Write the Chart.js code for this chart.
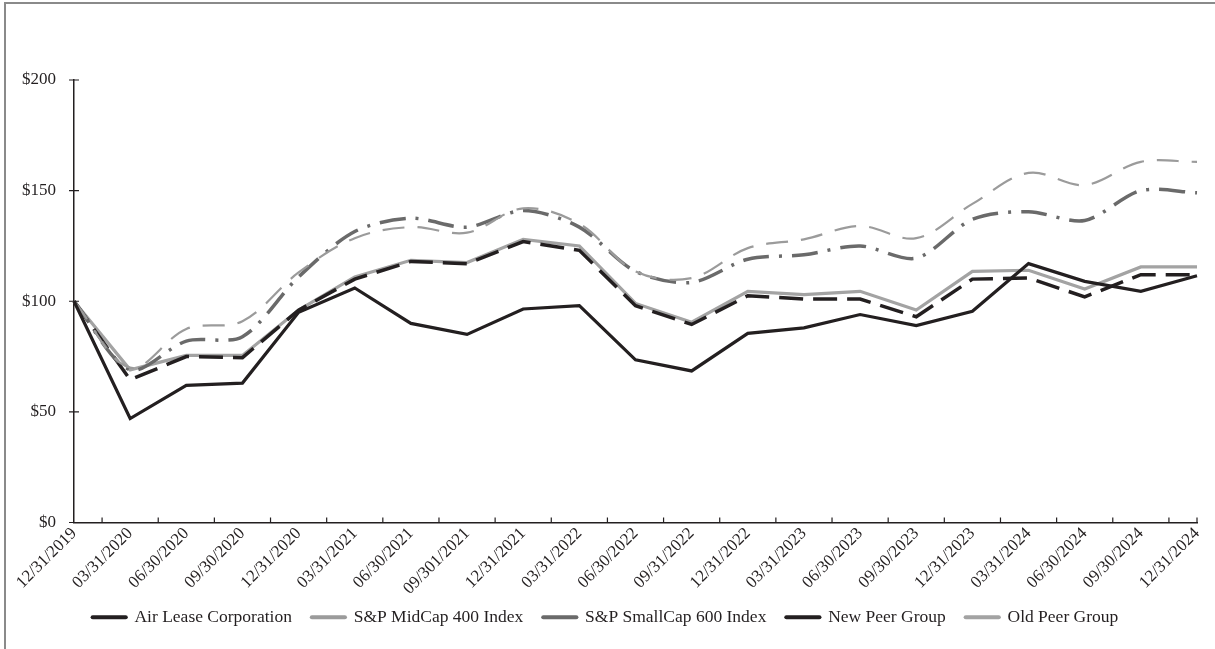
<!DOCTYPE html>
<html>
<head>
<meta charset="utf-8">
<script src="https://cdn.jsdelivr.net/npm/chart.js@4.4.1/dist/chart.umd.min.js"></script>
<style>
  html, body { margin: 0; padding: 0; background: #fff; }
  .frame {
    position: absolute; left: 4px; top: 2px; width: 1211px; height: 647px;
    border-left: 2px solid #8a8a8a; border-top: 2px solid #8a8a8a;
    box-sizing: border-box;
  }
  .frame canvas { display: block; }
</style>
</head>
<body>
<div class="frame"><canvas id="myChart" width="1209" height="645"></canvas></div>
<script>
const labels = ['12/31/2019', '03/31/2020', '06/30/2020', '09/30/2020', '12/31/2020', '03/31/2021',
  '06/30/2021', '09/301/2021', '12/31/2021', '03/31/2022', '06/30/2022', '09/31/2022', '12/31/2022',
  '03/31/2023', '06/30/2023', '09/30/2023', '12/31/2023', '03/31/2024', '06/30/2024', '09/30/2024', '12/31/2024'];

const airLease = [100, 47, 62, 63, 95, 106, 90, 85, 96.5, 98, 73.5, 68.5, 85.5, 88, 94, 89, 95.5, 117, 109, 104.5, 111.5];
const midCap = [100, 70, 87.5, 91, 113, 128.5, 133.5, 131, 142, 135, 113.5, 110.5, 124, 128, 134, 128.5, 144, 158, 152.5, 163, 163];
const smallCap = [100, 69, 82, 84, 111, 131.5, 137.5, 133.5, 141, 133.5, 113.5, 108.5, 119, 121, 125, 119.5, 137, 140.5, 136.5, 150, 149];
const newPeer = [100, 64.5, 75, 74.5, 96, 110, 118, 117, 127, 123, 98, 89.5, 102.5, 101, 101, 93, 110, 110.5, 102, 112, 112];
const oldPeer = [100, 69, 75.5, 75.5, 96, 111, 118.5, 117.5, 128, 125, 99, 90.5, 104.5, 103, 104.5, 96, 113.5, 114, 105.5, 115.5, 115.5];

const yTicks = [0, 50, 100, 150, 200];

const ink = '#231f20';
const font = { family: 'Liberation Serif', size: 17 };

// small tick marks like the original: x ticks between categories (pointing up), y ticks crossing the axis
const tickMarks = {
  id: 'tickMarks',
  afterLayout(chart) {
    // let the long rotated date labels run past the axis box instead of being clipped
    chart.scales.x.bottom = chart.height;
  },
  afterDraw(chart) {
    const ctx = chart.ctx;
    const x = chart.scales.x, y = chart.scales.y;
    ctx.save();
    ctx.strokeStyle = ink;
    ctx.lineWidth = 1.2;
    ctx.beginPath();
    for (let i = 0; i < labels.length - 1; i++) {
      const px = (x.getPixelForTick(i) + x.getPixelForTick(i + 1)) / 2;
      ctx.moveTo(px, x.top);
      ctx.lineTo(px, x.top - 5);
    }
    const last = x.getPixelForTick(labels.length - 1);
    ctx.moveTo(last, x.top);
    ctx.lineTo(last, x.top - 5);
    yTicks.forEach(function(v) {
      const py = y.getPixelForValue(v);
      ctx.moveTo(y.right - 5, py);
      ctx.lineTo(y.right + 5, py);
    });
    ctx.stroke();
    ctx.restore();
  }
};

const canvas = document.getElementById('myChart');

new Chart(canvas, {
  type: 'line',
  data: {
    labels: labels,
    datasets: [
      { label: 'Air Lease Corporation', data: airLease, borderColor: ink, backgroundColor: ink,
        borderWidth: 3.2, tension: 0 },
      { label: 'S&P MidCap 400 Index', data: midCap, borderColor: '#9b9b9b', backgroundColor: '#9b9b9b',
        borderWidth: 2.2, borderDash: [22, 13], tension: 0.35 },
      { label: 'S&P SmallCap 600 Index', data: smallCap, borderColor: '#6a6a6a', backgroundColor: '#6a6a6a',
        borderWidth: 3.5, borderDash: [26, 10, 3, 10], tension: 0.3 },
      { label: 'New Peer Group', data: newPeer, borderColor: ink, backgroundColor: ink,
        borderWidth: 3.5, borderDash: [24, 10], tension: 0 },
      { label: 'Old Peer Group', data: oldPeer, borderColor: '#a3a3a3', backgroundColor: '#a3a3a3',
        borderWidth: 3.2, tension: 0 }
    ]
  },
  options: {
    responsive: false,
    animation: false,
    elements: { point: { radius: 0 } },
    layout: { padding: { top: 76, left: 8, right: 18, bottom: 13 } },
    plugins: {
      tooltip: { enabled: false },
      legend: {
        position: 'bottom',
        labels: {
          font: { family: 'Liberation Serif', size: 17.5 },
          color: ink,
          padding: 20,
          usePointStyle: true,
          pointStyle: 'line',
          pointStyleWidth: 33,
          generateLabels(chart) {
            const items = Chart.defaults.plugins.legend.labels.generateLabels(chart);
            items.forEach(function(it) { it.lineWidth = 4.2; it.lineCap = 'round'; });
            return items;
          }
        }
      }
    },
    scales: {
      x: {
        offset: false,
        grid: { display: false },
        border: { display: true, color: ink, width: 1.5 },
        ticks: { font: font, color: ink, minRotation: 45, maxRotation: 45, padding: -7, autoSkip: false },
        afterFit(scale) { scale.height = 66; }
      },
      y: {
        min: 0,
        max: 200,
        grid: { display: false },
        border: { display: true, color: ink, width: 1.5 },
        afterBuildTicks(scale) { scale.ticks = yTicks.map(function(v) { return { value: v }; }); },
        ticks: { font: font, color: ink, padding: 10, callback: function(v) { return '$' + v; } },
        afterFit(scale) { scale.width = 60; }
      }
    }
  },
  plugins: [tickMarks]
});
</script>
</body>
</html>
